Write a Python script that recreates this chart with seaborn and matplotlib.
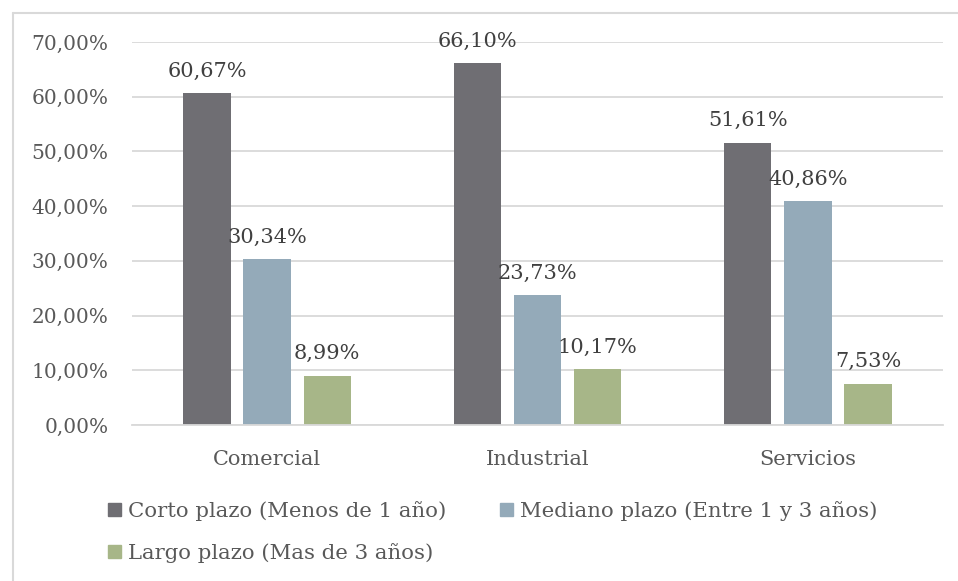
import matplotlib
matplotlib.use("Agg")
import matplotlib.pyplot as plt
from matplotlib.patches import Rectangle
from matplotlib.lines import Line2D
import seaborn as sns
import pandas as pd

sectores = ["Comercial", "Industrial", "Servicios"]
plazos = [
    "Corto plazo (Menos de 1 año)",
    "Mediano plazo (Entre 1 y 3 años)",
    "Largo plazo (Mas de 3 años)",
]
corto = [60.67, 66.10, 51.61]
mediano = [30.34, 23.73, 40.86]
largo = [8.99, 10.17, 7.53]
colores = ["#6f6e73", "#94aab9", "#a7b688"]
yticks = [0, 10, 20, 30, 40, 50, 60, 70]

rows = []
for plazo, serie in zip(plazos, [corto, mediano, largo]):
    for sector, v in zip(sectores, serie):
        rows.append({"Sector": sector, "Plazo": plazo, "Valor": v})
df = pd.DataFrame(rows)

sns.set_theme(style="white")
plt.rcParams["font.family"] = ["DejaVu Serif"]
texto = "#595959"
FS = 14.5

fig = plt.figure(figsize=(9.58, 5.81), dpi=100)
ax = fig.add_axes([0.1378, 0.2685, 0.8465, 0.6592])

sns.barplot(data=df, x="Sector", y="Valor", hue="Plazo", hue_order=plazos,
            palette=colores, width=0.667, gap=0.21, saturation=1,
            edgecolor="none", linewidth=0, legend=False, ax=ax)

ax.set_xlim(-0.5, 2.5)
ax.set_ylim(0, 70)
ax.set_yticks(yticks)
ax.set_yticklabels([f"{t:.2f}%".replace(".", ",") for t in yticks])
ax.yaxis.grid(True, color="#d9d9d9", linewidth=1.3)
ax.set_axisbelow(True)
ax.set_xlabel("")
ax.set_ylabel("")
for s in ["left", "right", "top"]:
    ax.spines[s].set_visible(False)
ax.spines["bottom"].set_color("#d9d9d9")
ax.spines["bottom"].set_linewidth(1.3)
ax.tick_params(axis="y", length=0, pad=17, labelsize=FS, labelcolor=texto)
ax.tick_params(axis="x", length=0, pad=18, labelsize=15, labelcolor=texto)

for cont in ax.containers:
    ax.bar_label(cont, labels=[f"{b.get_height():.2f}%".replace(".", ",") for b in cont],
                 padding=9, fontsize=15, color="#404040")

# legend filled row by row: two entries on the first row, one on the second
orden = [0, 2, 1]
handles = [Rectangle((0, 0), 1, 1, color=colores[i]) for i in orden]
labels = [plazos[i] for i in orden]
fig.legend(handles, labels, loc="upper left", bbox_to_anchor=(0.113, 0.138),
           ncol=2, frameon=False, fontsize=15.3, labelcolor=texto,
           handlelength=0.6, handleheight=0.6, handletextpad=0.35,
           columnspacing=2.5, labelspacing=1.05, borderpad=0, borderaxespad=0)

# outer frame: top and left edges
fx = 12.5 / 958
fy = 1 - 12.5 / 581
fig.add_artist(Line2D([fx, 1], [fy, fy], transform=fig.transFigure,
                      color="#d9d9d9", linewidth=1.5))
fig.add_artist(Line2D([fx, fx], [0, fy], transform=fig.transFigure,
                      color="#d9d9d9", linewidth=1.5))

fig.savefig("out.png", dpi=100)
